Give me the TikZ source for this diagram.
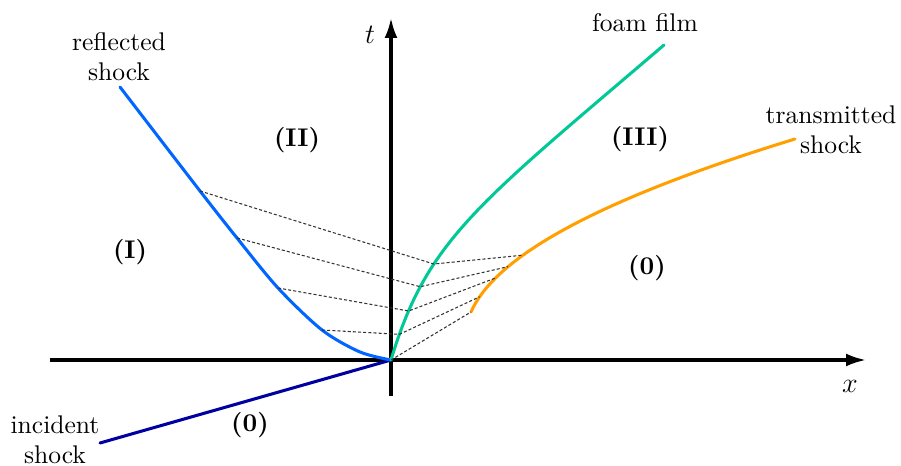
\documentclass[tikz,border=0pt]{standalone}
\usetikzlibrary{arrows.meta}
\definecolor{reflblue}{RGB}{0,102,255}
\definecolor{incblue}{RGB}{0,0,160}
\definecolor{foamgreen}{RGB}{0,200,150}
\definecolor{transorange}{RGB}{255,160,0}
\begin{document}
\begin{tikzpicture}[x=0.015cm,y=-0.015cm,
  axis/.style={line width=1.3pt,-{Latex[length=8.5pt,width=5.5pt]}},
  curve/.style={line width=1.3pt,line cap=round},
  fan/.style={line width=0.45pt,black!80,dash pattern=on 1.3pt off 0.9pt},
  lbl/.style={align=center,inner sep=0pt,font=\fontsize{10.9}{12.8}\selectfont},
  reg/.style={inner sep=0pt,font=\fontsize{10.9}{12.8}\selectfont\bfseries}]
\useasboundingbox (0,0) rectangle (901,466);
% axes
\coordinate (O) at (391,360);
\coordinate (xs) at (50,360);
\coordinate (xe) at (866,360);
\coordinate (ts) at (391,396);
\coordinate (te) at (391,18);
\draw[axis] (xs) -- (xe);
\draw[axis] (ts) -- (te);
\node[lbl] (tl) at (370,35) {\large$t$};
\node[lbl] (xl) at (850,386) {\large$x$};
% reflected shock points
\coordinate (r0) at (120,87);
\coordinate (r1) at (200,191);
\coordinate (r2) at (237,238);
\coordinate (r3) at (278,288);
\coordinate (r4) at (322,330);
\coordinate (r5) at (360,352);
% end points
\coordinate (f8) at (664,45);
\coordinate (s5) at (471,312);
\coordinate (s9) at (795,139);
\coordinate (i0) at (100,443);
% curves
\draw[curve,incblue] (i0) -- (O);
\draw[curve,reflblue] plot[smooth,tension=0.5] coordinates {(r0) (r1) (r2) (r3) (r4) (r5) (O)};
\draw[curve,foamgreen] (O) .. controls (427,240) and (476.8,205) ..
   coordinate[pos=0.075] (f4) coordinate[pos=0.15] (f3)
   coordinate[pos=0.235] (f2) coordinate[pos=0.32] (f1) (f8);
\draw[curve,transorange] (s5) .. controls (493,262) and (580,205) ..
   coordinate[pos=0.1] (s4) coordinate[pos=0.22] (s3)
   coordinate[pos=0.29] (s2) coordinate[pos=0.36] (s1) (s9);
% fan lines
\draw[fan] (r1) -- (f1) -- (s1);
\draw[fan] (r2) -- (f2) -- (s2);
\draw[fan] (r3) -- (f3) -- (s3);
\draw[fan] (r4) -- (f4) -- (s4);
\draw[fan] (O) -- (s5);
% labels
\node[lbl] (lrefl) at (119,57) {reflected\\shock};
\node[lbl] (lfoam) at (645,23) {foam film};
\node[lbl] (ltrans) at (831,130) {transmitted\\shock};
\node[lbl] (linc) at (55,440) {incident\\shock};
% regions
\node[reg] (rI) at (130,252) {(I)};
\node[reg] (rII) at (297,140) {(II)};
\node[reg] (rIII) at (640,139) {(III)};
\node[reg] (r0a) at (647,268) {(0)};
\node[reg] (r0b) at (250,425) {(0)};
\end{tikzpicture}
\end{document}
